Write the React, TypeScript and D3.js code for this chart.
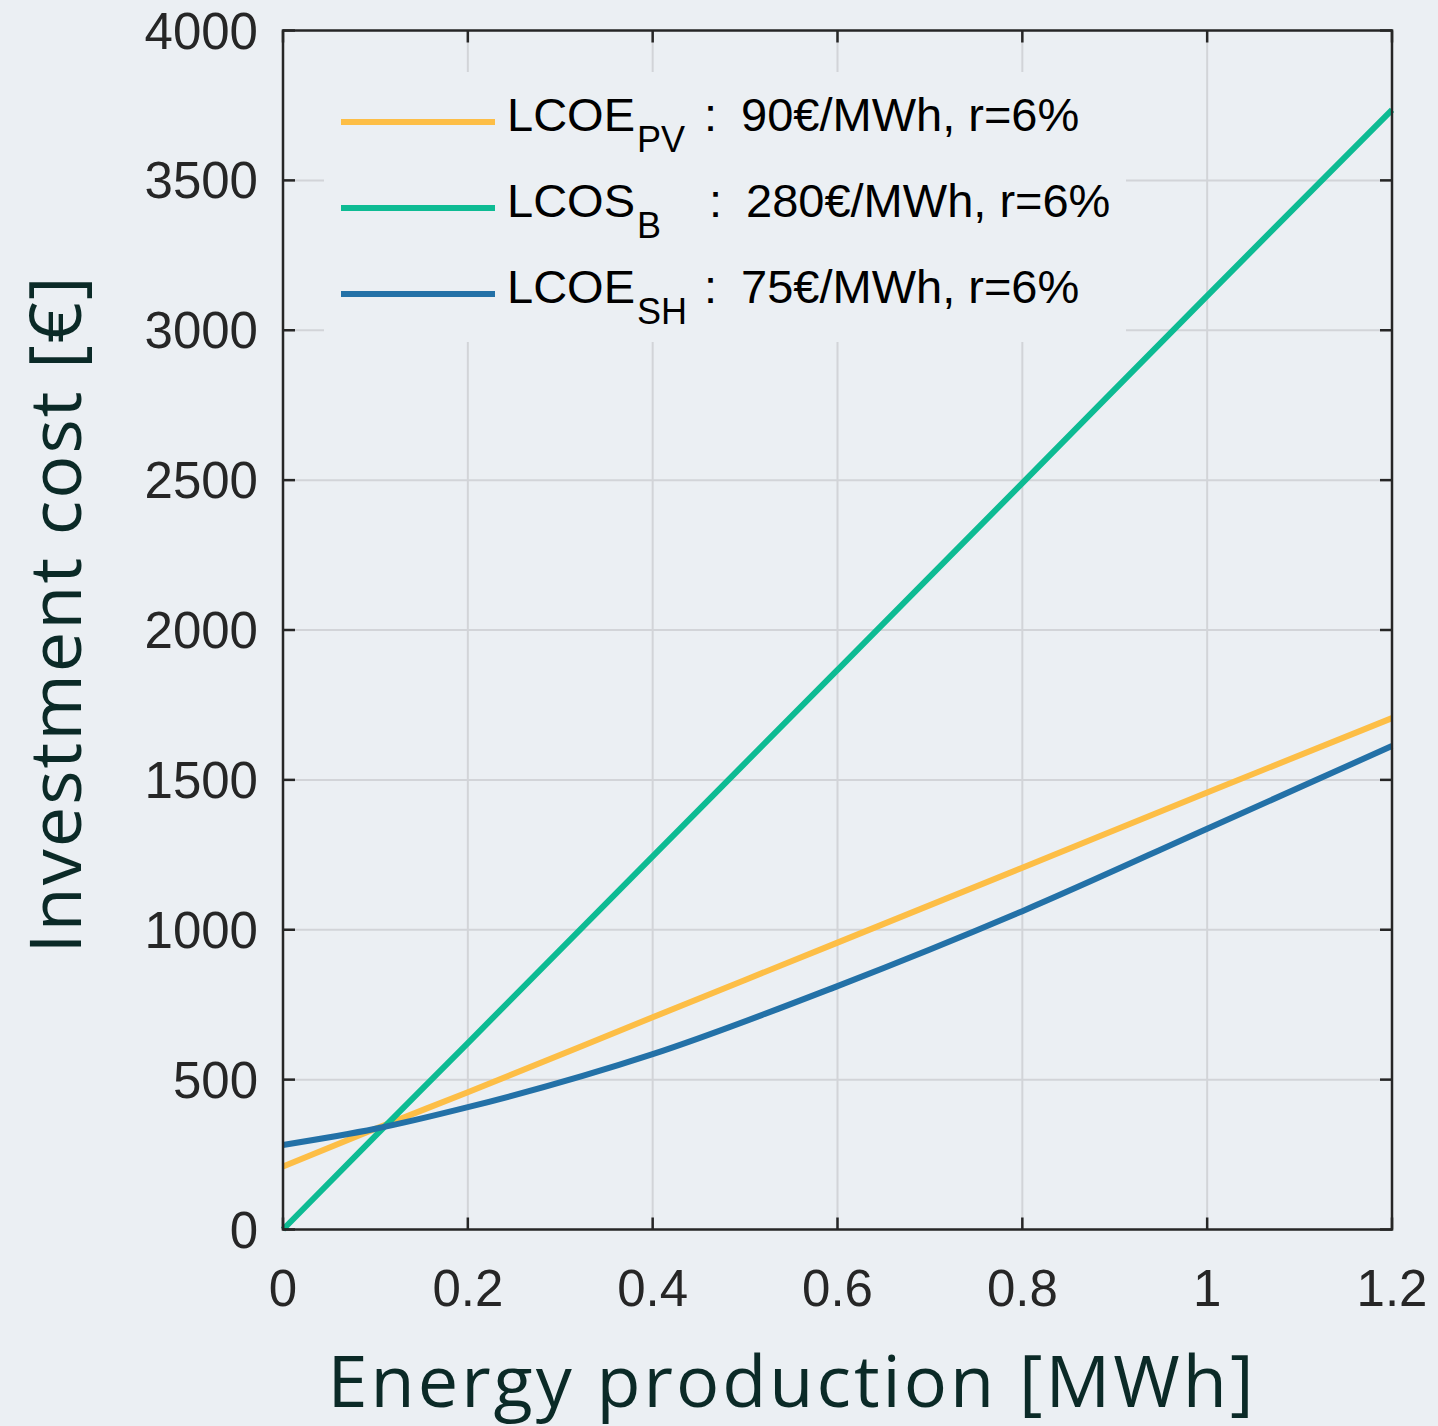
import React from "react";
import * as d3 from "d3";

// Energy production [MWh] sample points
const energy = [0, 0.1, 0.2, 0.4, 0.6, 0.8, 1.0, 1.2];
// Investment cost [€] per technology
const pvCost = [210, 336, 458, 708, 957, 1207, 1458, 1706];
const batteryCost = [0, 312, 622, 1245, 1867, 2490, 3115, 3735];
const shCost = [282, 336, 408, 585, 812, 1062, 1337, 1613];

const xTicks = [0, 0.2, 0.4, 0.6, 0.8, 1, 1.2];
const yTicks = [0, 500, 1000, 1500, 2000, 2500, 3000, 3500, 4000];

const seriesList = [
  { name: "LCOE", sub: "PV", value: "90€/MWh, r=6%", colon: 704, valueX: 741, color: "#FDBE46", data: pvCost },
  { name: "LCOS", sub: "B", value: "280€/MWh, r=6%", colon: 709, valueX: 746, color: "#0DBB93", data: batteryCost },
  { name: "LCOE", sub: "SH", value: "75€/MWh, r=6%", colon: 704, valueX: 741, color: "#2371A7", data: shCost },
];

const W = 1438;
const H = 1426;
const left = 283;
const right = 1392;
const top = 30.5;
const bottom = 1229.5;

const BG = "#EBEFF3";
const AXIS = "#262626";
const GRID = "#D2D4D8";
const TITLE = "#0B2A27";
const tickFont = "'Liberation Sans', Arial, sans-serif";
const titleFont = "'Open Sans', 'Noto Sans', sans-serif";

export default function App() {
  const x = d3.scaleLinear().domain([0, 1.2]).range([left, right]);
  const y = d3.scaleLinear().domain([0, 4000]).range([bottom, top]);
  const line = d3
    .line<number>()
    .x((_, i) => x(energy[i]))
    .y((d) => y(d))
    .curve(d3.curveMonotoneX);

  const tickLen = 12;

  return (
    <svg
      width={W}
      height={H}
      style={{ position: "absolute", left: 0, top: 0, background: BG }}
    >
      <rect x={0} y={0} width={W} height={H} fill={BG} />

      {/* grid */}
      {xTicks.slice(1, -1).map((t) => (
        <line key={"gx" + t} x1={x(t)} x2={x(t)} y1={top} y2={bottom} stroke={GRID} strokeWidth={2} />
      ))}
      {yTicks.slice(1, -1).map((t) => (
        <line key={"gy" + t} x1={left} x2={right} y1={y(t)} y2={y(t)} stroke={GRID} strokeWidth={2} />
      ))}

      {/* legend background */}
      <rect x={324} y={72} width={802} height={270} fill={BG} />

      {/* data lines */}
      {seriesList.map((s) => (
        <path
          key={s.name + s.sub}
          d={line(s.data) || ""}
          fill="none"
          stroke={s.color}
          strokeWidth={6}
          strokeLinejoin="round"
        />
      ))}

      {/* axes frame and inward ticks */}
      <rect x={left} y={top} width={right - left} height={bottom - top} fill="none" stroke={AXIS} strokeWidth={2.5} />
      {xTicks.map((t) => (
        <g key={"tx" + t}>
          <line x1={x(t)} x2={x(t)} y1={bottom} y2={bottom - tickLen} stroke={AXIS} strokeWidth={2.5} />
          <line x1={x(t)} x2={x(t)} y1={top} y2={top + tickLen} stroke={AXIS} strokeWidth={2.5} />
          <text
            x={x(t)}
            y={1306}
            textAnchor="middle"
            fontFamily={tickFont}
            fontSize={51}
            fill={AXIS}
          >
            {String(t)}
          </text>
        </g>
      ))}
      {yTicks.map((t) => (
        <g key={"ty" + t}>
          <line x1={left} x2={left + tickLen} y1={y(t)} y2={y(t)} stroke={AXIS} strokeWidth={2.5} />
          <line x1={right} x2={right - tickLen} y1={y(t)} y2={y(t)} stroke={AXIS} strokeWidth={2.5} />
          <text
            x={258}
            y={y(t) + 18}
            textAnchor="end"
            fontFamily={tickFont}
            fontSize={51}
            fill={AXIS}
          >
            {t}
          </text>
        </g>
      ))}

      {/* legend */}
      {seriesList.map((s, i) => {
        const ly = 122 + i * 86;
        const base = 131 + i * 86;
        return (
          <g key={"lg" + i} fontFamily={tickFont} fill="#000">
            <line x1={341} x2={495} y1={ly} y2={ly} stroke={s.color} strokeWidth={6} />
            <text x={507} y={base} fontSize={47}>
              {s.name}
            </text>
            <text x={637} y={base + 21} fontSize={36}>
              {s.sub}
            </text>
            <text x={s.colon} y={base} fontSize={47}>
              :
            </text>
            <text x={s.valueX} y={base} fontSize={47}>
              {s.value}
            </text>
          </g>
        );
      })}

      {/* axis titles */}
      <text
        x={792}
        y={1407}
        textAnchor="middle"
        fontFamily={titleFont}
        fontSize={72}
        fill={TITLE}
        letterSpacing={3}
      >
        Energy production [MWh]
      </text>
      <text
        transform={`translate(81, 614) rotate(-90)`}
        textAnchor="middle"
        fontFamily={titleFont}
        fontSize={72}
        fill={TITLE}
        letterSpacing={2}
      >
        Investment cost [€]
      </text>
    </svg>
  );
}
